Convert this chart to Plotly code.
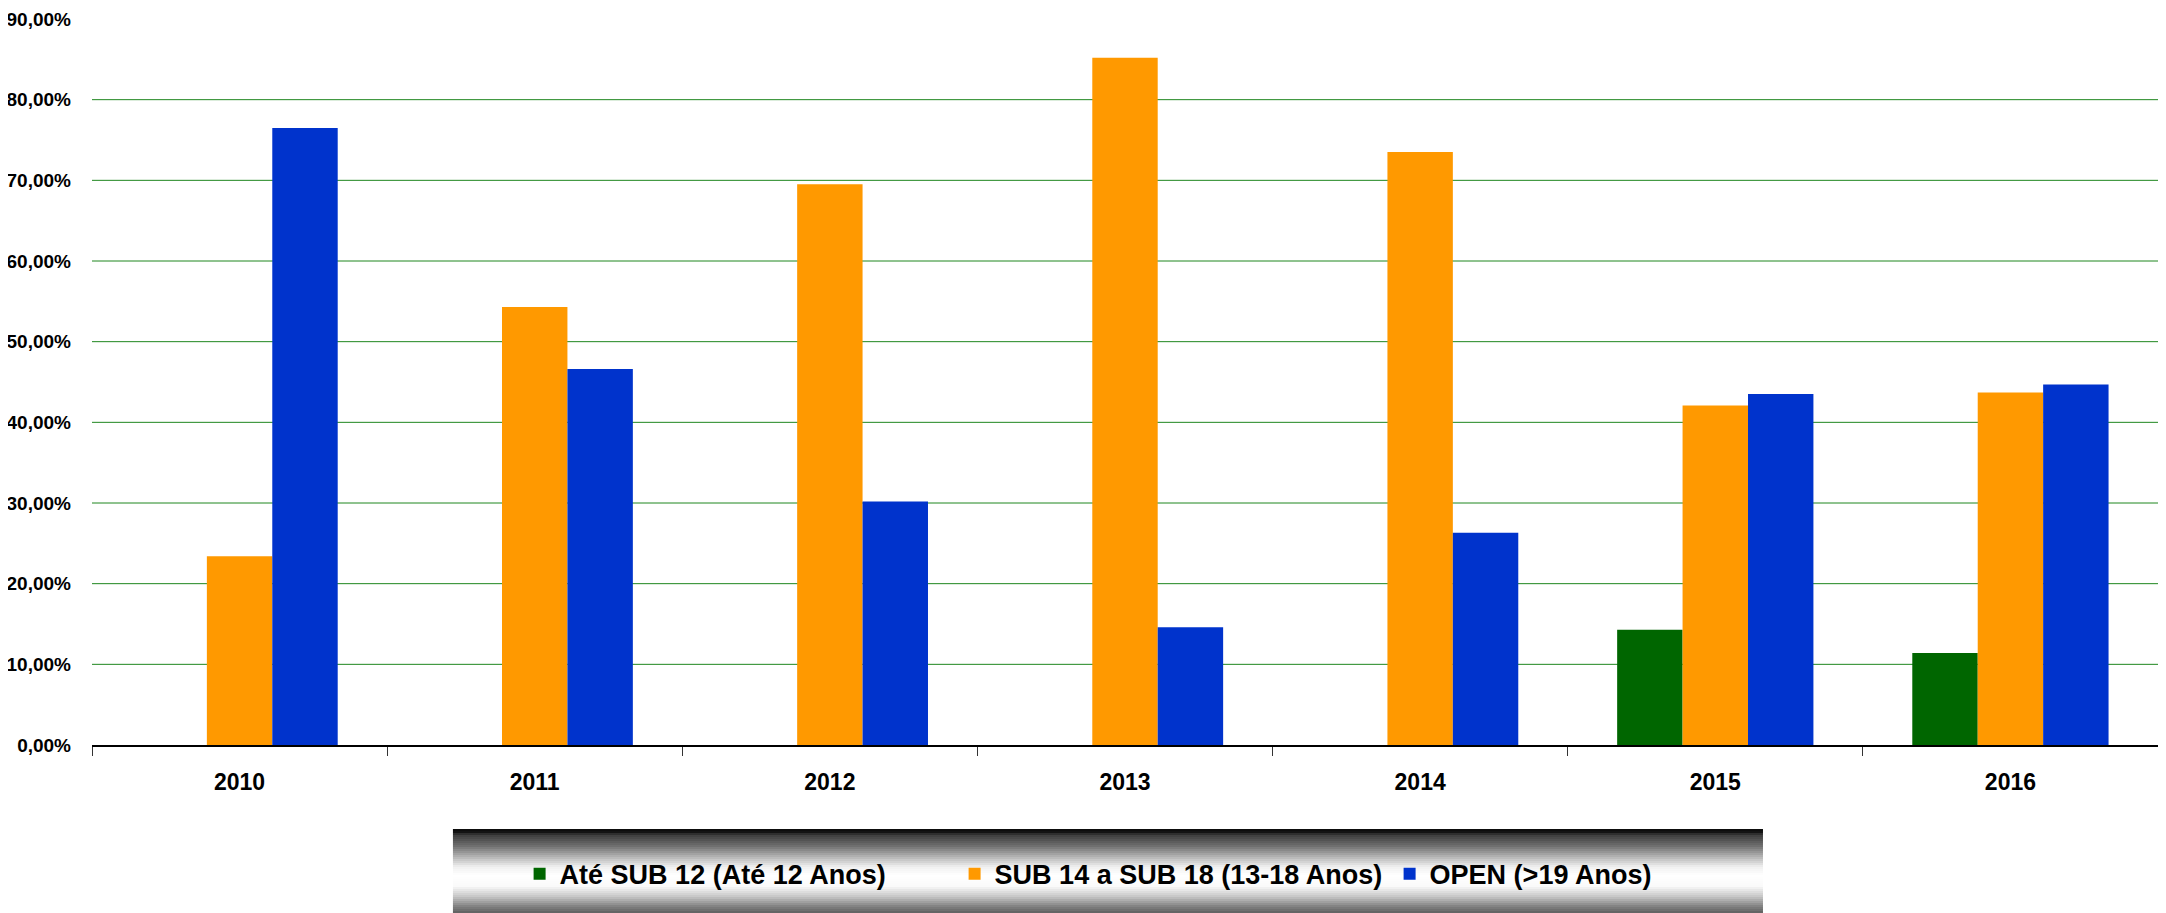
import plotly.graph_objects as go

years = ["2010", "2011", "2012", "2013", "2014", "2015", "2016"]
ate_sub12 = [None, None, None, None, None, 0.143, 0.114]
sub14_18 = [0.234, 0.543, 0.695, 0.852, 0.735, 0.421, 0.437]
open19 = [0.765, 0.466, 0.302, 0.146, 0.263, 0.435, 0.447]

series_names = ["Até SUB 12 (Até 12 Anos)", "SUB 14 a SUB 18 (13-18 Anos)", "OPEN (>19 Anos)"]
series_colors = ["#006600", "#FF9900", "#0033CC"]
y_tick_vals = [0.0, 0.1, 0.2, 0.3, 0.4, 0.5, 0.6, 0.7, 0.8, 0.9]
grid_vals = [0.1, 0.2, 0.3, 0.4, 0.5, 0.6, 0.7, 0.8]

FONT = "Liberation Sans"

fig = go.Figure()
for name, vals, col in zip(series_names, [ate_sub12, sub14_18, open19], series_colors):
    fig.add_trace(go.Bar(x=years, y=vals, name=name, marker=dict(color=col, line=dict(width=0))))

# horizontal grid lines (only 10%..80%, none at the 90% top edge)
for g in grid_vals:
    fig.add_shape(type="line", xref="paper", yref="y", x0=0, x1=1, y0=g, y1=g,
                  line=dict(color="#1f861f", width=1), layer="below")

# gradient background for legend box (decoration)
stops = [(0.0, 10), (0.04, 20), (0.07, 60), (0.2, 110), (0.35, 190), (0.45, 240), (0.55, 255),
         (0.68, 250), (0.8, 200), (0.92, 130), (1.0, 95)]

def shade(t):
    for (t0, c0), (t1, c1) in zip(stops[:-1], stops[1:]):
        if t0 <= t <= t1:
            return c0 + (c1 - c0) * (t - t0) / (t1 - t0)
    return stops[-1][1]

x0, x1 = 0.1747, 0.8088
ytop, ybot = -0.1158, -0.2315
n = 42
for i in range(n):
    t = (i + 0.5) / n
    c = int(round(shade(t)))
    ya = ytop + (ybot - ytop) * i / n
    yb = ytop + (ybot - ytop) * (i + 1) / n
    fig.add_shape(type="rect", xref="paper", yref="paper", x0=x0, x1=x1, y0=ya, y1=yb - 0.0004,
                  fillcolor=f"rgb({c},{c},{c})", line=dict(width=0), layer="below")

fig.update_layout(
    width=2166, height=913,
    margin=dict(l=84, r=16, t=11, b=176, autoexpand=False),
    paper_bgcolor="white", plot_bgcolor="rgba(0,0,0,0)",
    separators=",.",
    barmode="group", bargap=0.335, bargroupgap=0,
    font=dict(family=FONT, color="black"),
    xaxis=dict(
        type="category", showline=True, linecolor="black", linewidth=1.5,
        ticks="outside", tickson="boundaries", ticklen=9, tickcolor="#333333", tickwidth=1,
        showgrid=False,
        tickfont=dict(family=FONT, size=23, color="black", weight="bold"),
        ticklabelstandoff=16,
    ),
    yaxis=dict(
        range=[0, 0.9], tickvals=y_tick_vals, tickformat=".2%",
        showgrid=False, zeroline=False, showline=False, ticks="",
        tickfont=dict(family=FONT, size=19, color="black", weight="bold"),
        ticklabelstandoff=20,
    ),
    legend=dict(
        orientation="h", x=0.5228, xanchor="center", y=-0.1778, yanchor="middle",
        bgcolor="rgba(0,0,0,0)", font=dict(family=FONT, size=27, color="black", weight="bold"),
        itemclick=False, traceorder="normal", entrywidth=390, entrywidthmode="pixels",
    ),
    showlegend=True,
)

fig.write_html("out.html")
